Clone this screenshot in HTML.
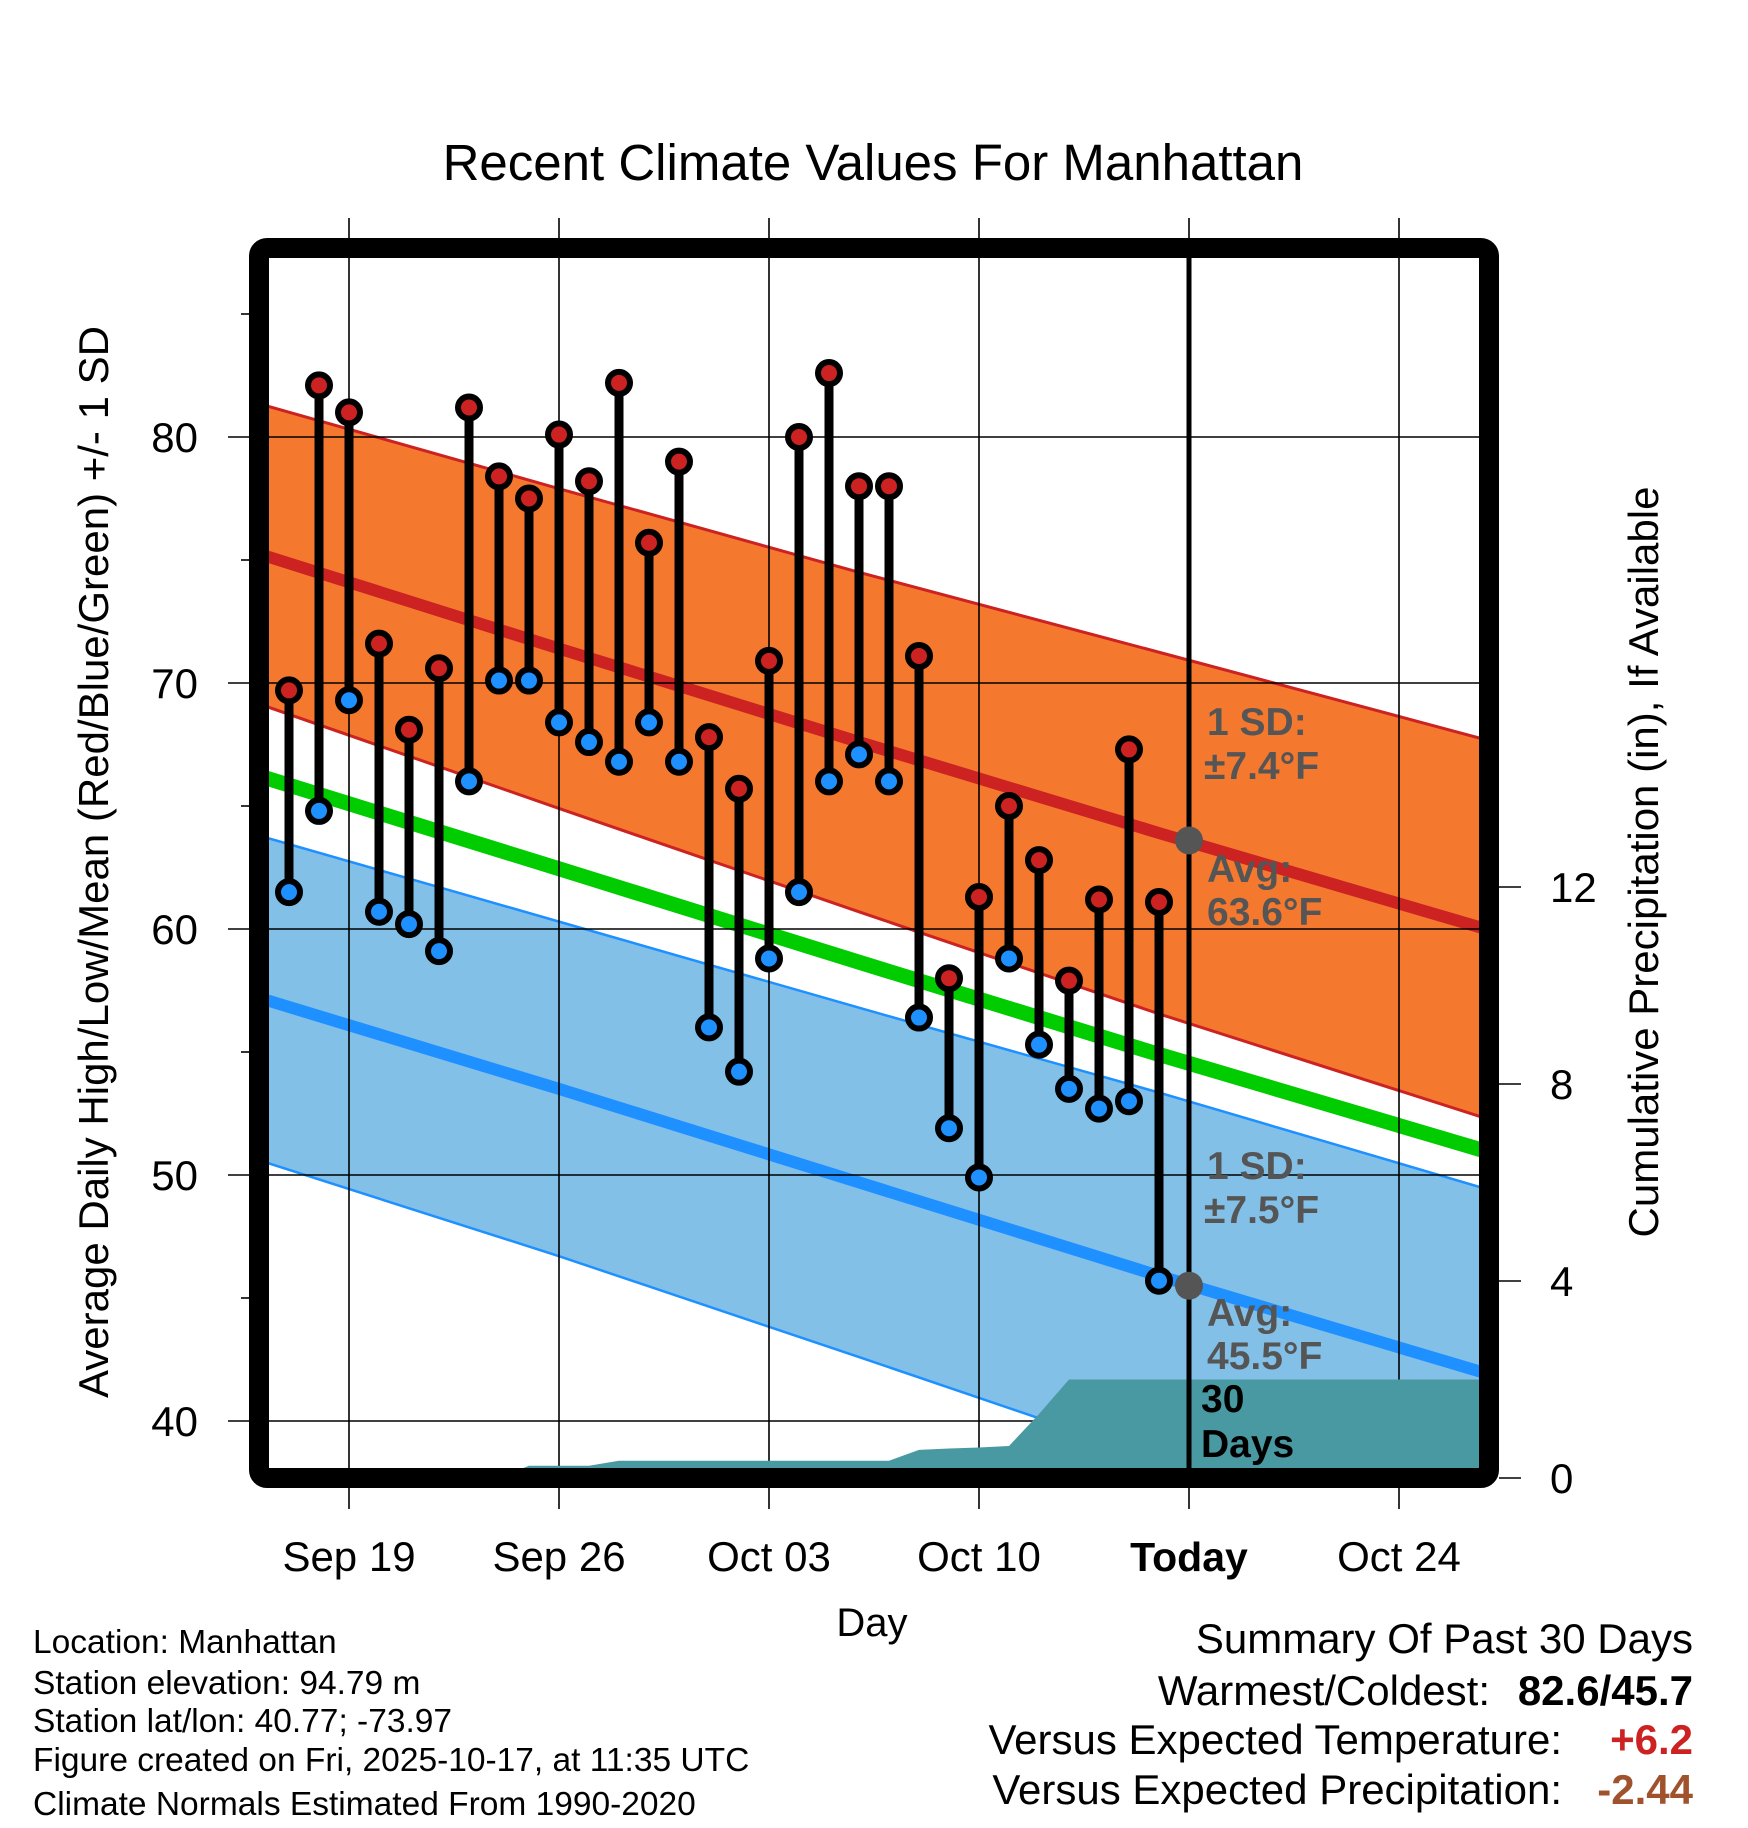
<!DOCTYPE html>
<html><head><meta charset="utf-8"><style>
html,body{margin:0;padding:0;background:#fff;}
svg{display:block;font-family:"Liberation Sans",Arial,sans-serif;}
</style></head><body>
<svg id="chart" width="1748" height="1828" viewBox="0 0 1748 1828" xmlns="http://www.w3.org/2000/svg">
<defs><clipPath id="plotclip"><rect x="269" y="258" width="1210" height="1210"/></clipPath></defs>
<text x="873" y="180" font-size="51" text-anchor="middle">Recent Climate Values For Manhattan</text>
<g id="bands" clip-path="url(#plotclip)"></g>
<g id="grid"></g>
<g id="precip" clip-path="url(#plotclip)"></g>
<g id="labels"></g>
<g id="series"></g>
<rect x="259" y="248" width="1230" height="1230" rx="8" fill="none" stroke="#000" stroke-width="20"/>
<g id="axes"></g>
<text x="872" y="1636" font-size="40" text-anchor="middle">Day</text>
<text transform="translate(108,862) rotate(-90)" font-size="42" text-anchor="middle">Average Daily High/Low/Mean (Red/Blue/Green) +/- 1 SD</text>
<text transform="translate(1658,862) rotate(-90)" font-size="42" text-anchor="middle">Cumulative Precipitation (in), If Available</text>
<g font-size="33.5">
<text x="33" y="1653">Location: Manhattan</text>
<text x="33" y="1694">Station elevation: 94.79 m</text>
<text x="33" y="1732">Station lat/lon: 40.77; -73.97</text>
<text x="33" y="1771">Figure created on Fri, 2025-10-17, at 11:35 UTC</text>
<text x="33" y="1815">Climate Normals Estimated From 1990-2020</text>
</g>
<g font-size="42" text-anchor="end">
<text x="1693" y="1653">Summary Of Past 30 Days</text>
<text x="1490" y="1705">Warmest/Coldest:</text>
<text x="1693" y="1705" font-weight="bold">82.6/45.7</text>
<text x="1562" y="1754">Versus Expected Temperature:</text>
<text x="1693" y="1754" font-weight="bold" fill="#cc2222">+6.2</text>
<text x="1562" y="1804">Versus Expected Precipitation:</text>
<text x="1693" y="1804" font-weight="bold" fill="#a0522d">-2.44</text>
</g>
</svg>
<script>
// ---- data ----
const days = [-2,-1,0,1,2,3,4,5,6,7,8,9,10,11,12,13,14,15,16,17,18,19,20,21,22,23,24,25,26,27]; // days since Sep 19 (Sep 17 .. Oct 16)
const highs = [69.7,82.1,81.0,71.6,68.1,70.6,81.2,78.4,77.5,80.1,78.2,82.2,75.7,79.0,67.8,65.7,70.9,80.0,82.6,78.0,78.0,71.1,58.0,61.3,65.0,62.8,57.9,61.2,67.3,61.1];
const lows  = [61.5,64.8,69.3,60.7,60.2,59.1,66.0,70.1,70.1,68.4,67.6,66.8,68.4,66.8,56.0,54.2,58.8,61.5,66.0,67.1,66.0,56.4,51.9,49.9,58.8,55.3,53.5,52.7,53.0,45.7];
const precip = [0,0,0,0,0,0,0,0,0.25,0.25,0.25,0.35,0.35,0.35,0.35,0.35,0.35,0.35,0.35,0.35,0.35,0.57,0.6,0.62,0.65,1.3,2.0,2.0,2.0,2.0];
const normDays = [-3,7,17,27,38];
const normHigh = [75.25,71.4,67.6,63.9,59.96];
const normHighSD = [6.1,6.5,6.9,7.35,7.7];
const normLow = [57.2,53.5,49.7,45.9,41.9];
const normLowSD = [6.6,6.8,7.1,7.45,7.5];
const xTickDays = [0,7,14,21,28,35];
const xTickLabels = ["Sep 19","Sep 26","Oct 03","Oct 10","Today","Oct 24"];
const yTicks = [40,50,60,70,80];
const yMinor = [45,55,65,75,85];
const pTicks = [0,4,8,12];
const todayDay = 28;
const todayHigh = 63.6, todayLow = 45.5;

// ---- scales ----
const X0=349, DX=30, Y80=437, DY=24.6, P0=1478, DP=49.25;
const xd = d => X0 + DX*d;
const yT = t => Y80 + (80-t)*DY;
const yP = p => P0 - p*DP;
const NS="http://www.w3.org/2000/svg";
function mk(parent, tag, attrs){const e=document.createElementNS(NS,tag);for(const k in attrs)e.setAttribute(k,attrs[k]);document.getElementById(parent).appendChild(e);return e;}
function pts(ds, vs, f){return ds.map((d,i)=>xd(d)+","+f(vs[i])).join(" ");}

// ---- bands ----
const hiUp = normHigh.map((v,i)=>v+normHighSD[i]), hiDn = normHigh.map((v,i)=>v-normHighSD[i]);
const loUp = normLow.map((v,i)=>v+normLowSD[i]), loDn = normLow.map((v,i)=>v-normLowSD[i]);
const mean = normHigh.map((v,i)=>(v+normLow[i])/2);
const rev = a=>a.slice().reverse();
let el;
el = mk('bands','polygon',{points:pts(normDays,hiUp,yT)+" "+pts(rev(normDays),rev(hiDn),yT),fill:"#f4792f"});


el = mk('bands','polygon',{points:pts(normDays,loUp,yT)+" "+pts(rev(normDays),rev(loDn),yT),fill:"#82c0e8"});


[[hiUp,"#cc2222",3,'high-upper-sd-line'],[hiDn,"#cc2222",3,'high-lower-sd-line'],[loUp,"#1e90ff",2.5,'low-upper-sd-line'],[loDn,"#1e90ff",2.5,'low-lower-sd-line'],
 [normHigh,"#cc2222",12,'normal-high-line'],[normLow,"#1e90ff",12,'normal-low-line'],[mean,"#00cc00",15,'normal-mean-line']].forEach(a=>{
  const l = mk('bands','polyline',{points:pts(normDays,a[0],yT),fill:"none",stroke:a[1],"stroke-width":a[2]});
  
  
});

// ---- grid ----
yTicks.forEach(t=>{
  const l = mk('grid','line',{x1:228,x2:1479,y1:yT(t),y2:yT(t),stroke:"#000","stroke-width":1.6});
  
  
});
yMinor.forEach(t=>{
  const l = mk('grid','line',{x1:241,x2:252,y1:yT(t),y2:yT(t),stroke:"#000","stroke-width":1.6});
  
  
});
xTickDays.forEach((d,i)=>{
  if(d===todayDay) return;
  const l = mk('grid','line',{x1:xd(d),x2:xd(d),y1:218,y2:1509,stroke:"#000","stroke-width":1.6});
  
  
});

// ---- precip ----
let pp = "270,"+yP(0)+" "+pts(days,precip,yP)+" 1480,"+yP(precip[precip.length-1])+" 1480,"+yP(0);
el = mk('precip','polygon',{points:pp,fill:"#4899a2"});



// ---- today line ----
el = mk('grid','line',{x1:xd(todayDay),x2:xd(todayDay),y1:218,y2:1509,stroke:"#000","stroke-width":1.6});


el = mk('labels','line',{x1:xd(todayDay),x2:xd(todayDay),y1:258,y2:1470,stroke:"#000","stroke-width":5});


[todayHigh,todayLow].forEach((t,i)=>{
  const c = mk('labels','circle',{cx:xd(todayDay),cy:yT(t),r:14,fill:"#555"});
  
  
});
function lbl(x,y,txt,name,col){
  const t = mk('labels','text',{x:x,y:y,"font-size":39,"font-weight":"bold",fill:col});
  t.textContent = txt;
  
  
}
lbl(1207,735,"1 SD:","high-sd-label","#555");
lbl(1204,779,"±7.4°F","high-sd-value","#555");
lbl(1207,882,"Avg:","high-avg-label","#555");
lbl(1207,925,"63.6°F","high-avg-value","#555");
lbl(1207,1179,"1 SD:","low-sd-label","#555");
lbl(1204,1223,"±7.5°F","low-sd-value","#555");
lbl(1207,1326,"Avg:","low-avg-label","#555");
lbl(1207,1369,"45.5°F","low-avg-value","#555");
lbl(1201,1412,"30","period-label","#000");
lbl(1201,1457,"Days","period-label-days","#000");

// ---- series ----
days.forEach((d,i)=>{
  const s = mk('series','line',{x1:xd(d),x2:xd(d),y1:yT(highs[i]),y2:yT(lows[i]),stroke:"#000","stroke-width":9});
  
  
  const h = mk('series','circle',{cx:xd(d),cy:yT(highs[i]),r:11,fill:"#cc2222",stroke:"#000","stroke-width":6});
  
  
  const l = mk('series','circle',{cx:xd(d),cy:yT(lows[i]),r:11,fill:"#1e90ff",stroke:"#000","stroke-width":6});
  
  
});

// ---- axes labels ----
yTicks.forEach(t=>{
  const tx = mk('axes','text',{x:198,y:yT(t)+15,"font-size":42,"text-anchor":"end"});
  tx.textContent = t;
  
  
});
pTicks.forEach(p=>{
  const l = mk('axes','line',{x1:1499,x2:1521,y1:yP(p),y2:yP(p),stroke:"#000","stroke-width":1.6});
  
  
  const tx = mk('axes','text',{x:1550,y:yP(p)+15,"font-size":42});
  tx.textContent = p;
  
  
});
xTickDays.forEach((d,i)=>{
  const tx = mk('axes','text',{x:xd(d),y:1571,"font-size":d===todayDay?41:42,"text-anchor":"middle"});
  if(d===todayDay) tx.setAttribute('font-weight','bold');
  tx.textContent = xTickLabels[i];
  
  
});
</script>
</body></html>
